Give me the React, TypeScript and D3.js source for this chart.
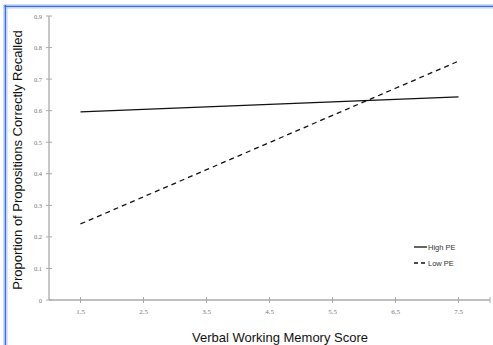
import React, { useEffect, useRef } from 'react';
import * as d3 from 'd3';

const scores = [1.5, 2.5, 3.5, 4.5, 5.5, 6.5, 7.5];
const highPE = [0.596, 0.604, 0.612, 0.62, 0.628, 0.636, 0.644];
const lowPE = [0.241, 0.327, 0.413, 0.499, 0.585, 0.671, 0.757];
const yTicks = [0, 0.1, 0.2, 0.3, 0.4, 0.5, 0.6, 0.7, 0.8, 0.9];
const seriesNames = ['High PE', 'Low PE'];

const App = () => {
  const svgRef = useRef<SVGSVGElement>(null);

  useEffect(() => {
    const width = 493;
    const height = 345;
    const svg = d3.select(svgRef.current);
    svg.selectAll('*').remove();
    svg.attr('width', width).attr('height', height);

    // selection frame (blue double line on top and left)
    svg.append('rect').attr('x', 0).attr('y', 0).attr('width', width).attr('height', height).attr('fill', '#fff');
    svg.append('line').attr('x1', 4).attr('x2', width).attr('y1', 5).attr('y2', 5).attr('stroke', '#9bb8ee').attr('stroke-width', 1);
    svg.append('line').attr('x1', 4).attr('x2', width).attr('y1', 6.5).attr('y2', 6.5).attr('stroke', '#3d6fe0').attr('stroke-width', 1.5);
    svg.append('line').attr('x1', 4).attr('x2', width).attr('y1', 8).attr('y2', 8).attr('stroke', '#b9cdf3').attr('stroke-width', 1);
    svg.append('line').attr('x1', 4).attr('x2', 4).attr('y1', 5).attr('y2', height).attr('stroke', '#9bb8ee').attr('stroke-width', 1);
    svg.append('line').attr('x1', 5.5).attr('x2', 5.5).attr('y1', 5).attr('y2', height).attr('stroke', '#3d6fe0').attr('stroke-width', 1.5);
    svg.append('line').attr('x1', 7).attr('x2', 7).attr('y1', 7).attr('y2', height).attr('stroke', '#b9cdf3').attr('stroke-width', 1);

    const x = d3.scaleLinear().domain([1, 8]).range([49, 490]);
    const y = d3.scaleLinear().domain([0, 0.9]).range([300, 16]);

    const axisColor = '#aaa';
    const tickFont = '"Liberation Serif", "Times New Roman", serif';

    // y axis
    svg.append('line').attr('x1', x(1)).attr('x2', x(1)).attr('y1', y(0)).attr('y2', y(0.9))
      .attr('stroke', axisColor).attr('stroke-width', 1.3);
    yTicks.forEach(t => {
      svg.append('line').attr('x1', x(1) - 3).attr('x2', x(1) + 3).attr('y1', y(t)).attr('y2', y(t))
        .attr('stroke', axisColor).attr('stroke-width', 1);
      svg.append('text').attr('x', x(1) - 7).attr('y', y(t) + 2.5).attr('text-anchor', 'end')
        .style('font-family', tickFont).style('font-size', '6.5px').attr('fill', '#777')
        .text(t === 0 ? '0' : d3.format('.1f')(t));
    });

    // x axis
    svg.append('line').attr('x1', x(1)).attr('x2', x(8)).attr('y1', y(0)).attr('y2', y(0))
      .attr('stroke', axisColor).attr('stroke-width', 1.3);
    [...scores, 8].forEach(t => {
      svg.append('line').attr('x1', x(t)).attr('x2', x(t)).attr('y1', y(0) - 3).attr('y2', y(0) + 3)
        .attr('stroke', axisColor).attr('stroke-width', 1);
    });
    scores.forEach(t => {
      svg.append('text').attr('x', x(t)).attr('y', y(0) + 14).attr('text-anchor', 'middle')
        .style('font-family', tickFont).style('font-size', '7px').attr('fill', '#777')
        .text(d3.format('.1f')(t));
    });

    const line = d3.line<number>().x((d, i) => x(scores[i])).y(d => y(d));

    svg.append('path').datum(highPE).attr('d', line).attr('fill', 'none')
      .attr('stroke', '#111').attr('stroke-width', 1.3);
    svg.append('path').datum(lowPE).attr('d', line).attr('fill', 'none')
      .attr('stroke', '#111').attr('stroke-width', 1.3).attr('stroke-dasharray', '5,4');

    // legend
    const legendX = 414;
    const legendY = [247, 263];
    seriesNames.forEach((name, i) => {
      svg.append('line').attr('x1', legendX).attr('x2', legendX + 13).attr('y1', legendY[i]).attr('y2', legendY[i])
        .attr('stroke', '#111').attr('stroke-width', 1.3)
        .attr('stroke-dasharray', i === 1 ? '4,3' : null);
      svg.append('text').attr('x', legendX + 14).attr('y', legendY[i] + 2.5)
        .style('font-family', '"Liberation Sans", Arial, sans-serif').style('font-size', '7.5px').attr('fill', '#333')
        .text(name);
    });

    // axis titles
    svg.append('text').attr('x', 280).attr('y', 342).attr('text-anchor', 'middle')
      .style('font-family', '"Liberation Sans", Arial, sans-serif').style('font-size', '13px').attr('fill', '#111')
      .text('Verbal Working Memory Score');
    svg.append('text').attr('transform', 'translate(22,160) rotate(-90)').attr('text-anchor', 'middle')
      .style('font-family', '"Liberation Sans", Arial, sans-serif').style('font-size', '13px').attr('fill', '#111')
      .text('Proportion of Propositions Correctly Recalled');
  }, []);

  return <svg ref={svgRef} style={{ position: 'absolute', left: 0, top: 0 }}></svg>;
};

export default App;
